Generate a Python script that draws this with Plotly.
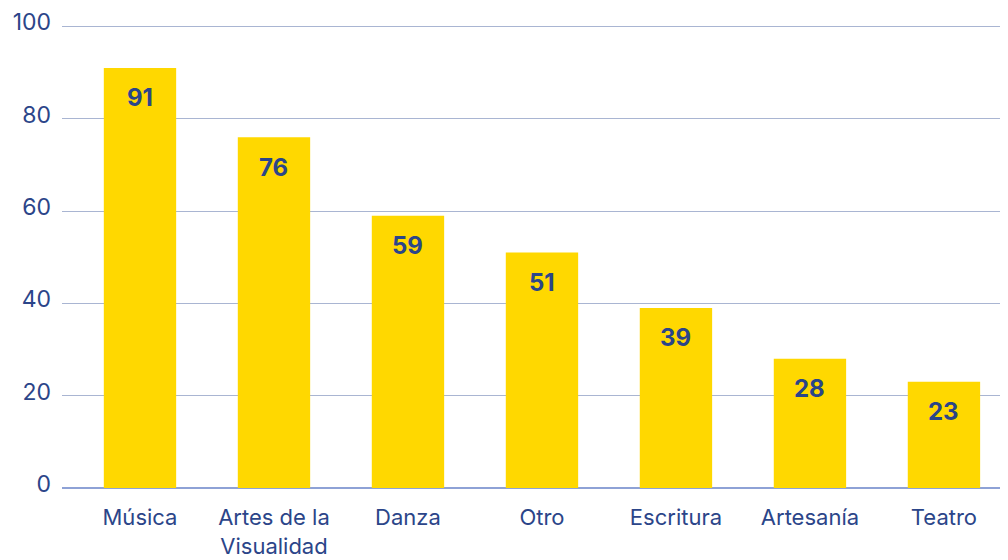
import plotly.graph_objects as go

categories = ["Música", "Artes de la<br>Visualidad", "Danza", "Otro", "Escritura", "Artesanía", "Teatro"]
values = [91, 76, 59, 51, 39, 28, 23]
y_ticks = [0, 20, 40, 60, 80, 100]

navy = "#2b4589"
yellow = "#ffd800"
font_family = "Inter, 'Open Sans', sans-serif"

fig = go.Figure()
fig.add_trace(go.Bar(
    x=categories,
    y=values,
    marker=dict(color=yellow, line=dict(width=0)),
    width=0.54,
    hoverinfo="x+y",
))

# value labels sit inside the top of each bar
for c, v in zip(categories, values):
    fig.add_annotation(
        x=c, y=v, text="<b>%d</b>" % v, showarrow=False,
        yanchor="middle", yshift=-30,
        font=dict(family=font_family, size=24, color=navy),
    )

fig.update_xaxes(
    range=[-0.582, 6.478],
    showgrid=False,
    showline=False,
    ticks="",
    automargin=False,
    ticklabelstandoff=14,
    tickfont=dict(family=font_family, size=22, color=navy),
)
fig.update_yaxes(
    range=[0, 100.3],
    tickvals=y_ticks,
    showgrid=True,
    gridcolor="#a9b5d2",
    gridwidth=1,
    zeroline=True,
    zerolinecolor="#8ea2d6",
    zerolinewidth=1.5,
    ticks="",
    automargin=False,
    ticklabelshift=-4,
    ticklabelstandoff=10,
    ticklabeloverflow="allow",
    tickfont=dict(family=font_family, size=23, color=navy),
)
# the page body keeps its default 8px margin, so the figure is sized to fit the window
fig.update_layout(
    width=1000,
    height=552,
    margin=dict(l=54, r=0, t=17, b=72),
    plot_bgcolor="white",
    paper_bgcolor="white",
    showlegend=False,
)

fig.write_html("out.html")
